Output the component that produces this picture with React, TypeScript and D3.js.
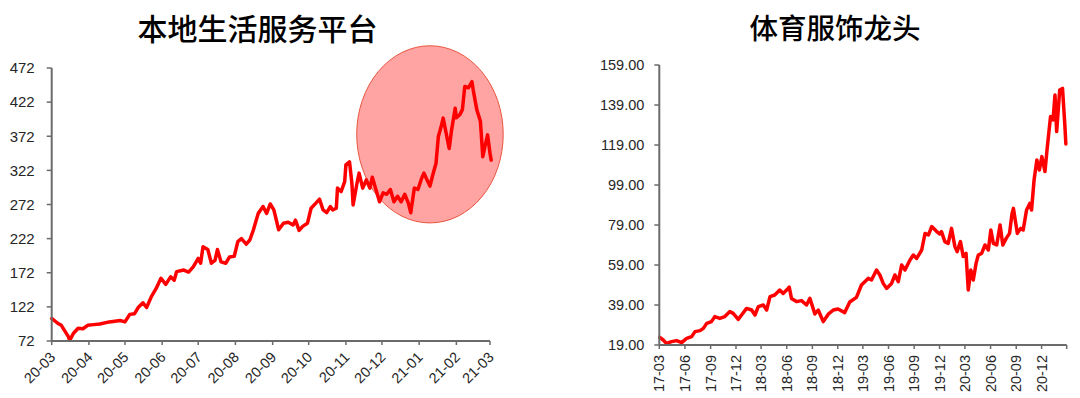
import React from "react";
import * as d3 from "d3";

const leftTitle = "本地生活服务平台";
const rightTitle = "体育服饰龙头";

const leftDates = [
  "2020-03-01","2020-03-06","2020-03-09","2020-03-15","2020-03-16","2020-03-19","2020-03-23","2020-03-27","2020-03-31",
  "2020-04-05","2020-04-10","2020-04-18","2020-04-27","2020-05-01","2020-05-05","2020-05-09","2020-05-12","2020-05-16",
  "2020-05-19","2020-05-23","2020-05-27","2020-05-31","2020-06-04","2020-06-08","2020-06-11","2020-06-13","2020-06-19",
  "2020-06-23","2020-06-27","2020-07-01","2020-07-03","2020-07-05","2020-07-09","2020-07-12","2020-07-15","2020-07-17",
  "2020-07-20","2020-07-24","2020-07-27","2020-07-31","2020-08-03","2020-08-06","2020-08-10","2020-08-13","2020-08-16",
  "2020-08-20","2020-08-24","2020-08-27","2020-08-30","2020-09-02","2020-09-06","2020-09-10","2020-09-14","2020-09-18",
  "2020-09-20","2020-09-23","2020-09-26","2020-09-30","2020-10-03","2020-10-07","2020-10-10","2020-10-13","2020-10-16",
  "2020-10-19","2020-10-21","2020-10-24","2020-10-25","2020-10-28","2020-10-31","2020-11-01","2020-11-04","2020-11-06",
  "2020-11-07","2020-11-10","2020-11-12","2020-11-15","2020-11-18","2020-11-21","2020-11-23","2020-11-26","2020-11-29",
  "2020-12-02","2020-12-05","2020-12-08","2020-12-11","2020-12-14","2020-12-17","2020-12-20","2020-12-23","2020-12-25",
  "2020-12-28","2020-12-31","2021-01-03","2021-01-05","2021-01-07","2021-01-10","2021-01-12","2021-01-15","2021-01-17",
  "2021-01-19","2021-01-21","2021-01-24","2021-01-26","2021-01-28","2021-01-31","2021-02-01","2021-02-04","2021-02-06",
  "2021-02-08","2021-02-11","2021-02-14","2021-02-15","2021-02-18","2021-02-21","2021-02-23","2021-02-25","2021-02-27",
  "2021-03-01","2021-03-02"
];
const leftValues = [
  105,98,95,78,73,83,90.6,90,95,
  96,97,100,102,100,111,112,121,128,
  121,137,149,164,155,166,161,173.6,176,
  173,181,193,186,210,206,186,190,206,
  188,186,195,196,217.6,222,214,220,235,
  259,269,259,272.8,264,235,244.6,246,242,
  249,234,240,244.6,266.5,274,279.8,264,260,
  269,264,266.5,296,291,305.6,330,334.6,303,
  271.4,301,318,296,308,296,312,294,276,
  289,287,294,276,284,276,287,274,260,
  296,294,310,318,310,299,313,332,371.6,
  384,398.6,372,354,381,413,399,404,411,
  445,443,452,440,411,394,342,359,374,
  347,337
];
const leftYTicks = [72, 122, 172, 222, 272, 322, 372, 422, 472];

const rightDates = [
  "2017-03-03","2017-03-15","2017-03-27","2017-04-14","2017-05-02","2017-05-20","2017-06-07","2017-06-25","2017-07-07",
  "2017-07-25","2017-08-06","2017-08-18","2017-09-04","2017-09-16","2017-10-04","2017-10-22","2017-11-09","2017-11-21",
  "2017-12-09","2017-12-21","2018-01-08","2018-01-26","2018-02-07","2018-02-19","2018-03-09","2018-03-21","2018-04-02",
  "2018-04-19","2018-05-07","2018-05-19","2018-06-06","2018-06-10","2018-06-18","2018-07-06","2018-07-24","2018-08-11",
  "2018-08-23","2018-09-10","2018-09-22","2018-10-10","2018-10-28","2018-11-15","2018-12-02","2018-12-26","2019-01-13",
  "2019-02-06","2019-02-24","2019-03-20","2019-04-01","2019-04-19","2019-05-01","2019-05-13","2019-05-25","2019-06-12",
  "2019-06-24","2019-07-06","2019-07-18","2019-07-30","2019-08-17","2019-08-29","2019-09-10","2019-09-28","2019-10-10",
  "2019-10-22","2019-11-03","2019-11-21","2019-12-02","2019-12-08","2019-12-20","2020-01-01","2020-01-13","2020-01-25",
  "2020-02-02","2020-02-14","2020-02-24","2020-03-05","2020-03-13","2020-03-22","2020-03-31","2020-04-10","2020-04-18",
  "2020-04-30","2020-05-12","2020-05-24","2020-06-02","2020-06-11","2020-06-23","2020-07-05","2020-07-15","2020-07-27",
  "2020-08-08","2020-08-17","2020-08-22","2020-09-05","2020-09-17","2020-09-26","2020-10-08","2020-10-20","2020-10-26",
  "2020-11-04","2020-11-14","2020-11-23","2020-12-02","2020-12-13","2020-12-21","2021-01-02","2021-01-11","2021-01-18",
  "2021-01-24","2021-02-04","2021-02-14","2021-02-22","2021-02-26"
];
const rightValues = [
  22.8,21.5,19.8,20.7,21.2,20.2,22.3,23.2,25.7,
  26.2,27.3,29.8,30.7,33.2,32.3,33.2,35.7,34.8,
  31.8,34,37.3,36.5,34,38.2,39,36.5,43.2,
  44,46.5,44.8,47.3,48,42.3,40.7,41.2,39,
  42.3,34.5,36.5,30.7,34.4,36.5,37,35.2,40.5,
  42.8,49,52.3,51.5,56.5,54,49.8,47.3,49.8,
  54,50.7,59,56.5,61.5,64,62.3,66.5,74.8,
  74,78.2,75.7,74.5,75.7,70.7,69.8,77.3,68.2,
  65.7,70.7,63.2,64.8,46.5,56.5,51.5,59.8,64,
  64.8,69,66.5,76.5,69.8,69,79,69,72.3,
  74.8,84.8,87.3,74.8,77.3,76.5,86.5,89.8,86.5,
  101.5,111.5,106.5,113.2,105.7,117.3,133.2,131.5,144,
  125.7,146.5,147.3,129.8,119.5
];
const rightYTicks = [19, 39, 59, 79, 99, 119, 139, 159];

// highlight ellipse on the left chart, in data terms
const highlightCenterDate = "2021-01-10";
const highlightCenterValue = 374.8;
const highlightHalfWidthDays = 61;
const highlightHalfHeightValue = 129.8;

const parse = d3.timeParse("%Y-%m-%d");
const fmtMonth = d3.timeFormat("%y-%m");

const AXIS = "#6b6b6b";
const TXT = "#262626";
const FONT = "'Liberation Sans', Arial, sans-serif";
const CJK = "'Noto Sans CJK SC', sans-serif";

export default function App() {
  // Left chart scales
  const lx = d3
    .scaleTime()
    .domain([parse("2020-03-01")!, parse("2021-03-01")!])
    .range([51.7, 490]);
  const ly = d3.scaleLinear().domain([72, 472]).range([341, 68]);
  const leftData = leftDates.map((d, i) => ({ d: parse(d)!, v: leftValues[i] }));
  const leftLine = d3
    .line<{ d: Date; v: number }>()
    .x((p) => lx(p.d))
    .y((p) => ly(p.v));
  const leftTicks = d3.timeMonths(parse("2020-03-01")!, parse("2021-03-02")!);

  const cDate = parse(highlightCenterDate)!;
  const cx = lx(cDate);
  const cy = ly(highlightCenterValue);
  const rx = lx(d3.timeDay.offset(cDate, highlightHalfWidthDays)) - cx;
  const ry = ly(highlightCenterValue - highlightHalfHeightValue) - cy;

  // Right chart scales
  const rx0 = parse("2017-03-01")!;
  const rx1 = parse("2021-03-01")!;
  const rxs = d3.scaleTime().domain([rx0, rx1]).range([659.3, 1066.7]);
  const rys = d3.scaleLinear().domain([19, 159]).range([345, 65]);
  const rightData = rightDates.map((d, i) => ({ d: parse(d)!, v: rightValues[i] }));
  const rightLine = d3
    .line<{ d: Date; v: number }>()
    .x((p) => rxs(p.d))
    .y((p) => rys(p.v));
  const rightTicks = d3
    .timeMonths(rx0, d3.timeDay.offset(rx1, 1))
    .filter((_, i) => i % 3 === 0);

  const lY0 = ly(72);
  const rY0 = rys(19);

  return (
    <svg
      width={1080}
      height={398}
      style={{ position: "absolute", left: 0, top: 0, background: "#fff" }}
    >
      {/* Titles */}
      <text
        x={257.5}
        y={40}
        textAnchor="middle"
        fontFamily={CJK}
        fontWeight={500}
        fontSize={30}
        fill="#000"
      >
        {leftTitle}
      </text>
      <text
        x={835}
        y={39}
        textAnchor="middle"
        fontFamily={CJK}
        fontWeight={500}
        fontSize={28.5}
        fill="#000"
      >
        {rightTitle}
      </text>

      {/* Left chart */}
      <ellipse
        cx={cx}
        cy={cy}
        rx={rx}
        ry={ry}
        fill="#ffa3a3"
        stroke="#e8553f"
        strokeWidth={1}
      />
      <path
        d={leftLine(leftData) || ""}
        fill="none"
        stroke="#ff0000"
        strokeWidth={3.5}
        strokeLinejoin="round"
        strokeLinecap="round"
      />
      <g>
        <line x1={lx.range()[0]} x2={lx.range()[0]} y1={ly(472)} y2={lY0} stroke={AXIS} strokeWidth={2} />
        <line x1={lx.range()[0]} x2={lx.range()[1]} y1={lY0} y2={lY0} stroke={AXIS} strokeWidth={2} />
        {leftYTicks.map((t) => (
          <g key={"ly" + t}>
            <line x1={lx.range()[0] - 5} x2={lx.range()[0]} y1={ly(t)} y2={ly(t)} stroke={AXIS} strokeWidth={1.5} />
            <text
              x={lx.range()[0] - 17}
              y={ly(t)}
              dy="0.35em"
              textAnchor="end"
              fontFamily={FONT}
              fontSize={15}
              fill={TXT}
            >
              {t}
            </text>
          </g>
        ))}
        {leftTicks.map((t, i) => (
          <g key={"lx" + i}>
            <line x1={lx(t)} x2={lx(t)} y1={lY0} y2={lY0 + 4} stroke={AXIS} strokeWidth={1.5} />
            <text
              transform={`translate(${lx(t) + 1},${lY0 + 13.5}) rotate(-45)`}
              dy="0.35em"
              textAnchor="end"
              fontFamily={FONT}
              fontSize={14.5}
              fill={TXT}
            >
              {fmtMonth(t)}
            </text>
          </g>
        ))}
      </g>

      {/* Right chart */}
      <path
        d={rightLine(rightData) || ""}
        fill="none"
        stroke="#ff0000"
        strokeWidth={3.5}
        strokeLinejoin="round"
        strokeLinecap="round"
      />
      <g>
        <line x1={rxs.range()[0]} x2={rxs.range()[0]} y1={rys(159)} y2={rY0} stroke={AXIS} strokeWidth={2} />
        <line x1={rxs.range()[0]} x2={rxs.range()[1]} y1={rY0} y2={rY0} stroke={AXIS} strokeWidth={2} />
        {rightYTicks.map((t) => (
          <g key={"ry" + t}>
            <line x1={rxs.range()[0] - 5} x2={rxs.range()[0]} y1={rys(t)} y2={rys(t)} stroke={AXIS} strokeWidth={1.5} />
            <text
              x={rxs.range()[0] - 15}
              y={rys(t)}
              dy="0.35em"
              textAnchor="end"
              fontFamily={FONT}
              fontSize={14.5}
              fill={TXT}
            >
              {t.toFixed(2)}
            </text>
          </g>
        ))}
        {rightTicks.map((t, i) => (
          <g key={"rx" + i}>
            <line x1={rxs(t)} x2={rxs(t)} y1={rY0} y2={rY0 + 4} stroke={AXIS} strokeWidth={1.5} />
            {i < rightTicks.length - 1 && (
              <text
                transform={`translate(${rxs(t)},${rY0 + 10}) rotate(-90)`}
                dy="0.35em"
                textAnchor="end"
                fontFamily={FONT}
                fontSize={14.5}
                fill={TXT}
              >
                {fmtMonth(t)}
              </text>
            )}
          </g>
        ))}
      </g>
    </svg>
  );
}
